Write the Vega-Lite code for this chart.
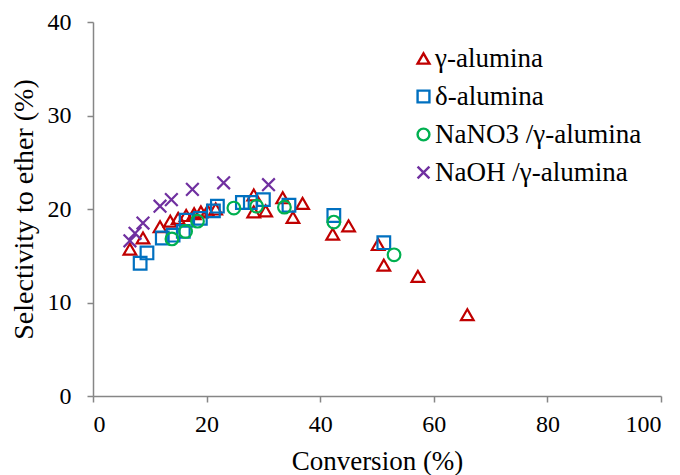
{
  "$schema": "https://vega.github.io/schema/vega-lite/v6.json",
  "width": 568,
  "height": 374,
  "autosize": {"type": "none"},
  "padding": {"left": 93, "top": 22, "right": 19, "bottom": 79},
  "background": "white",
  "config": {
    "view": {"stroke": null},
    "font": "Liberation Serif, serif",
    "style": {
      "guide-label": {"font": "Liberation Serif, serif"},
      "guide-title": {"font": "Liberation Serif, serif"}
    },
    "axis": {
      "grid": false,
      "domainColor": "#868686",
      "tickColor": "#868686",
      "domainWidth": 1.5,
      "tickWidth": 1.5,
      "tickSize": 6,
      "labelFont": "Liberation Serif, serif",
      "labelFontSize": 24,
      "labelColor": "#000000",
      "titleFont": "Liberation Serif, serif",
      "titleFontSize": 27,
      "titleFontWeight": "normal",
      "titleColor": "#000000"
    },
    "legend": {"labelFont": "Liberation Serif, serif"}
  },
  "data": {
    "values": [
      {"series": "γ-alumina", "x": 6.5, "y": 15.7},
      {"series": "γ-alumina", "x": 8.8, "y": 16.9},
      {"series": "γ-alumina", "x": 11.8, "y": 18.1},
      {"series": "γ-alumina", "x": 13.6, "y": 18.7},
      {"series": "γ-alumina", "x": 15.0, "y": 19.0},
      {"series": "γ-alumina", "x": 16.4, "y": 19.3},
      {"series": "γ-alumina", "x": 17.8, "y": 19.5},
      {"series": "γ-alumina", "x": 19.0, "y": 19.7},
      {"series": "γ-alumina", "x": 20.2, "y": 19.8},
      {"series": "γ-alumina", "x": 21.6, "y": 20.0},
      {"series": "γ-alumina", "x": 28.3, "y": 21.5},
      {"series": "γ-alumina", "x": 28.3, "y": 19.7},
      {"series": "γ-alumina", "x": 30.4, "y": 19.8},
      {"series": "γ-alumina", "x": 33.4, "y": 21.2},
      {"series": "γ-alumina", "x": 35.2, "y": 19.1},
      {"series": "γ-alumina", "x": 36.9, "y": 20.6},
      {"series": "γ-alumina", "x": 42.2, "y": 17.3},
      {"series": "γ-alumina", "x": 45.0, "y": 18.2},
      {"series": "γ-alumina", "x": 50.2, "y": 16.2},
      {"series": "γ-alumina", "x": 51.2, "y": 14.0},
      {"series": "γ-alumina", "x": 57.2, "y": 12.8},
      {"series": "γ-alumina", "x": 65.9, "y": 8.7},
      {"series": "δ-alumina", "x": 8.3, "y": 14.2},
      {"series": "δ-alumina", "x": 9.5, "y": 15.3},
      {"series": "δ-alumina", "x": 12.2, "y": 16.9},
      {"series": "δ-alumina", "x": 14.1, "y": 17.2},
      {"series": "δ-alumina", "x": 15.9, "y": 17.6},
      {"series": "δ-alumina", "x": 16.4, "y": 18.8},
      {"series": "δ-alumina", "x": 18.9, "y": 19.0},
      {"series": "δ-alumina", "x": 21.2, "y": 19.8},
      {"series": "δ-alumina", "x": 21.9, "y": 20.3},
      {"series": "δ-alumina", "x": 26.3, "y": 20.7},
      {"series": "δ-alumina", "x": 27.7, "y": 20.7},
      {"series": "δ-alumina", "x": 30.0, "y": 21.0},
      {"series": "δ-alumina", "x": 34.5, "y": 20.4},
      {"series": "δ-alumina", "x": 42.4, "y": 19.3},
      {"series": "δ-alumina", "x": 51.2, "y": 16.4},
      {"series": "NaNO3 /γ-alumina", "x": 13.9, "y": 16.8},
      {"series": "NaNO3 /γ-alumina", "x": 16.3, "y": 17.6},
      {"series": "NaNO3 /γ-alumina", "x": 18.4, "y": 18.7},
      {"series": "NaNO3 /γ-alumina", "x": 24.8, "y": 20.1},
      {"series": "NaNO3 /γ-alumina", "x": 28.8, "y": 20.3},
      {"series": "NaNO3 /γ-alumina", "x": 33.7, "y": 20.2},
      {"series": "NaNO3 /γ-alumina", "x": 42.4, "y": 18.6},
      {"series": "NaNO3 /γ-alumina", "x": 53.0, "y": 15.1},
      {"series": "NaOH /γ-alumina", "x": 6.5, "y": 16.6},
      {"series": "NaOH /γ-alumina", "x": 7.4, "y": 17.4},
      {"series": "NaOH /γ-alumina", "x": 8.8, "y": 18.5},
      {"series": "NaOH /γ-alumina", "x": 11.8, "y": 20.3},
      {"series": "NaOH /γ-alumina", "x": 13.8, "y": 21.0},
      {"series": "NaOH /γ-alumina", "x": 17.5, "y": 22.1},
      {"series": "NaOH /γ-alumina", "x": 23.0, "y": 22.8},
      {"series": "NaOH /γ-alumina", "x": 30.9, "y": 22.6}
    ]
  },
  "mark": {"type": "point", "filled": false, "strokeWidth": 2.2, "size": 160, "opacity": 1},
  "encoding": {
    "x": {
      "field": "x",
      "type": "quantitative",
      "title": "Conversion (%)",
      "scale": {"domain": [0, 100], "nice": false, "zero": false},
      "axis": {"values": [0, 20, 40, 60, 80, 100], "labelPadding": 10, "titlePadding": 12, "labelFont": "Liberation Serif, serif", "titleFont": "Liberation Serif, serif"}
    },
    "y": {
      "field": "y",
      "type": "quantitative",
      "title": "Selectivity to ether (%)",
      "scale": {"domain": [0, 40], "nice": false, "zero": true},
      "axis": {"values": [0, 10, 20, 30, 40], "labelPadding": 16, "titlePadding": 9, "labelFont": "Liberation Serif, serif", "titleFont": "Liberation Serif, serif", "titleFontSize": 28}
    },
    "color": {
      "field": "series",
      "type": "nominal",
      "scale": {
        "domain": ["γ-alumina", "δ-alumina", "NaNO3 /γ-alumina", "NaOH /γ-alumina"],
        "range": ["#C00000", "#0070C0", "#00B050", "#7030A0"]
      },
      "legend": {
        "title": null,
        "orient": "none",
        "legendX": 317,
        "legendY": 23,
        "labelFont": "Liberation Serif, serif",
        "labelFontSize": 27,
        "labelColor": "#000000",
        "labelLimit": 400,
        "symbolSize": 140,
        "symbolStrokeWidth": 2.4,
        "rowPadding": 10,
        "labelOffset": -2
      }
    },
    "shape": {
      "field": "series",
      "type": "nominal",
      "scale": {
        "domain": ["γ-alumina", "δ-alumina", "NaNO3 /γ-alumina", "NaOH /γ-alumina"],
        "range": ["triangle-up", "square", "circle", "M-1,-1L1,1M1,-1L-1,1"]
      }
    }
  }
}
